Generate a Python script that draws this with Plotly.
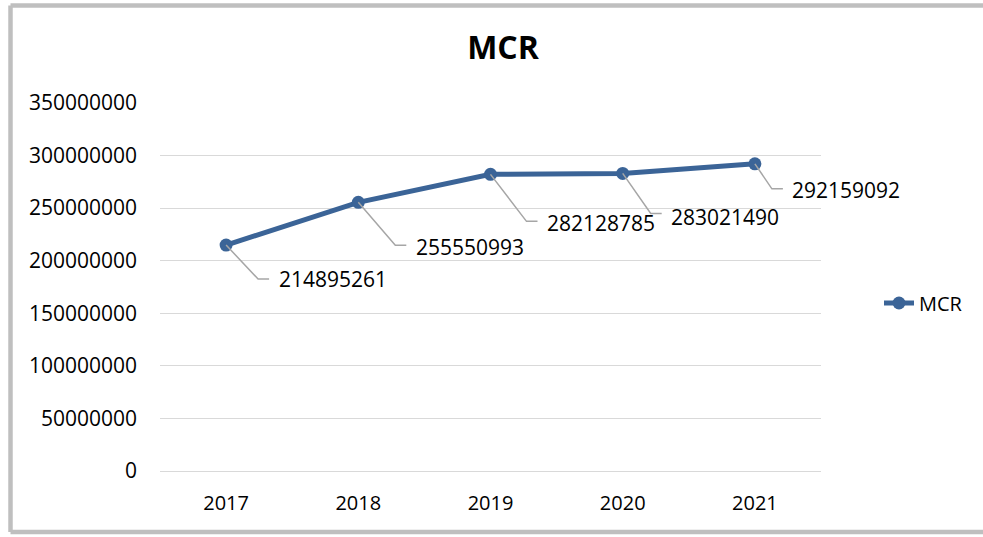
import plotly.graph_objects as go

# ---- data ----
years = ["2017", "2018", "2019", "2020", "2021"]
mcr_values = [214895261, 255550993, 282128785, 283021490, 292159092]
series_name = "MCR"
chart_title = "MCR"
y_ticks = [0, 50000000, 100000000, 150000000, 200000000, 250000000, 300000000, 350000000]

# label placement (pixel offsets from each point: elbow dx, dy(down), text dx)
label_elbow_dx = [32, 37, 36, 28, 17]
label_elbow_dy = [34, 43, 47, 40, 25]
label_text_dx = [52, 57, 55, 47, 36]
label_text_dy = [34, 45, 49, 44, 26]

LINE_COLOR = "#3B6497"
LEADER_COLOR = "#A6A6A6"
FRAME_COLOR = "#BFBFBF"
FONT = "Open Sans"

fig = go.Figure()
fig.add_trace(go.Scatter(
    x=years, y=mcr_values, name=series_name, mode="lines+markers",
    line=dict(color=LINE_COLOR, width=5),
    marker=dict(color=LINE_COLOR, size=13),
))

shapes = []
annotations = []
for i, (yr, v) in enumerate(zip(years, mcr_values)):
    ex, ey = label_elbow_dx[i], label_elbow_dy[i]
    shapes.append(dict(
        type="path", xref="x", yref="y", xsizemode="pixel", ysizemode="pixel",
        xanchor=i, yanchor=v,
        path=f"M0,0 L{ex},{-ey} L{ex + 11},{-ey}",
        line=dict(color=LEADER_COLOR, width=1.5), layer="above",
    ))
    annotations.append(dict(
        x=i, y=v, xref="x", yref="y", text=str(v), showarrow=False,
        xanchor="left", yanchor="middle",
        xshift=label_text_dx[i] - 1, yshift=-label_text_dy[i],
        font=dict(family=FONT, size=21, color="#000000"),
    ))

# outer chart frame (left, top, bottom edges; right edge lies outside the picture)
fx0 = (10.5 - 160) / 661
fx1 = 1.4
fy0 = (471 - 532) / 368
fy1 = (471 - 5.5) / 368
for (a0, b0, a1, b1) in [(fx0, fy0, fx0, fy1), (fx0, fy1, fx1, fy1), (fx0, fy0, fx1, fy0)]:
    shapes.append(dict(type="line", xref="paper", yref="paper",
                       x0=a0, y0=b0, x1=a1, y1=b1,
                       line=dict(color=FRAME_COLOR, width=4.5), layer="below"))

fig.update_layout(
    width=983, height=537,
    margin=dict(l=160, r=162, t=103, b=66),
    paper_bgcolor="white", plot_bgcolor="white",
    font=dict(family=FONT, size=20, color="#000000"),
    title=dict(text=f"<b>{chart_title}</b>", x=503 / 983, xref="container", xanchor="center",
               y=1 - 48 / 537, yref="container", yanchor="middle",
               font=dict(family=FONT, size=32, color="#000000")),
    showlegend=True,
    legend=dict(x=(879 - 160) / 661, xanchor="left", y=(471 - 303) / 368, yanchor="middle",
                font=dict(family=FONT, size=20, color="#000000"),
                bgcolor="rgba(0,0,0,0)", itemwidth=30),
    xaxis=dict(type="category", range=[-0.5, 4.5], showgrid=False, zeroline=False,
               showline=False, ticks="", ticklabelstandoff=18,
               tickfont=dict(family=FONT, size=20, color="#000000")),
    yaxis=dict(range=[0, 350000000], tickvals=y_ticks, tickformat="d",
               showgrid=True, gridcolor="#D9D9D9", gridwidth=1.3,
               zeroline=True, zerolinecolor="#D9D9D9", zerolinewidth=1.3,
               showline=False, ticks="", ticklabelstandoff=22,
               tickfont=dict(family=FONT, size=21, color="#000000")),
    shapes=shapes, annotations=annotations,
)

fig.write_html("out.html", config=dict(displayModeBar=False),
               post_script="document.body.style.margin='0';document.body.style.overflow='hidden';")
